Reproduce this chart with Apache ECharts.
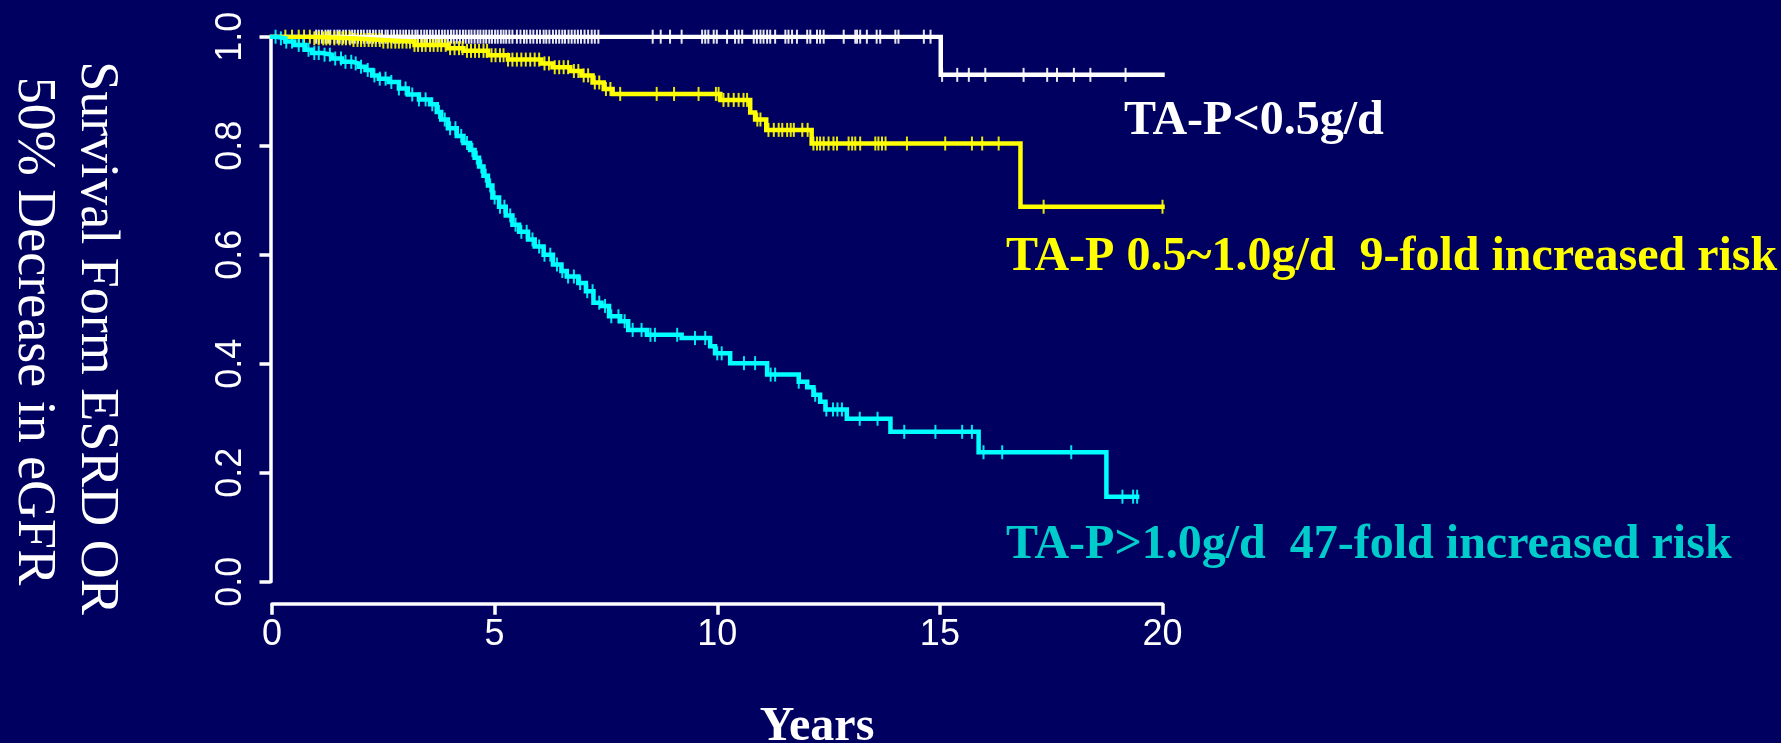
<!DOCTYPE html>
<html>
<head>
<meta charset="utf-8">
<title>Survival by time-averaged proteinuria</title>
<script src="https://cdn.jsdelivr.net/npm/echarts@6/dist/echarts.min.js"></script>
<style>
  html, body { margin: 0; padding: 0; background: #000060; }
  #chart { width: 1781px; height: 743px; }
</style>
</head>
<body>
<div id="chart"></div>
<script>
// Kaplan-Meier step curves: event times (years) and survival level from that time on
const whiteTimes  = [0, 15.02, 20.0];
const whiteSurv   = [1.0, 0.930, 0.930];

const yellowTimes = [0, 0.9, 1.8, 2.5, 3.2, 3.95, 4.3, 4.85, 5.3, 6.05, 6.3, 6.7, 6.95, 7.2, 7.45, 7.65,
                     10.07, 10.74, 10.85, 11.1, 12.12, 16.81, 20.0];
const yellowSurv  = [1.0, 0.997, 0.994, 0.991, 0.985, 0.979, 0.974, 0.966, 0.958, 0.951, 0.944, 0.937, 0.929, 0.916, 0.904, 0.895,
                     0.884, 0.861, 0.848, 0.829, 0.804, 0.688, 0.688];

const cyanTimes   = [0, 0.1, 0.3, 0.5, 0.75, 0.9, 1.12, 1.35, 1.57, 1.8, 1.95, 2.1, 2.25, 2.4, 2.62, 2.85,
                     3.05, 3.3, 3.55, 3.7, 3.8, 3.95, 4.15, 4.3, 4.45, 4.55, 4.65, 4.75, 4.85, 4.95,
                     5.1, 5.25, 5.4, 5.55, 5.75, 5.9, 6.1, 6.31, 6.5, 6.62, 6.88, 7.05, 7.22, 7.4, 7.57, 7.82,
                     8.0, 8.42, 9.2, 9.84, 9.95, 10.29, 11.12, 11.83, 12.02, 12.16, 12.31, 12.43, 12.91,
                     13.89, 15.87, 18.74, 19.43];
const cyanSurv    = [1.0, 0.997, 0.991, 0.985, 0.976, 0.970, 0.967, 0.960, 0.954, 0.951, 0.945, 0.939, 0.929, 0.923, 0.917, 0.905,
                     0.894, 0.885, 0.876, 0.862, 0.848, 0.832, 0.818, 0.805, 0.792, 0.778, 0.762, 0.745, 0.727, 0.705,
                     0.688, 0.672, 0.655, 0.642, 0.628, 0.615, 0.600, 0.582, 0.570, 0.560, 0.548, 0.533, 0.512, 0.506, 0.487, 0.478,
                     0.462, 0.453, 0.447, 0.432, 0.419, 0.401, 0.380, 0.367, 0.357, 0.343, 0.330, 0.316, 0.299,
                     0.275, 0.2375, 0.156, 0.156];

// Censoring times (drawn as "+" marks on each curve)
const whiteCensor = [0.99, 1.05, 1.12, 1.2, 1.26, 1.31, 1.4, 1.47, 1.52, 1.6, 1.66, 1.74, 1.8, 1.86, 1.93, 2.0, 2.06, 2.14,
  2.2, 2.27, 2.33, 2.41, 2.47, 2.55, 2.6, 2.68, 2.74, 2.81, 2.88, 2.95, 3.01, 3.08, 3.15, 3.22, 3.27, 3.35, 3.42, 3.48,
  3.55, 3.61, 3.68, 3.75, 3.82, 3.88, 3.95, 4.02, 4.08, 4.15, 4.22, 4.29, 4.35, 4.42, 4.48, 4.55, 4.62, 4.68, 4.75, 4.81,
  4.88, 4.94, 5.01, 5.07, 5.14, 5.2, 5.26, 5.33, 5.4, 5.5, 5.58, 5.66, 5.72, 5.8, 5.87, 5.95, 6.02, 6.1, 6.16, 6.23, 6.31,
  6.38, 6.45, 6.52, 6.58, 6.66, 6.73, 6.8, 6.87, 6.94, 7.02, 7.1, 7.18, 7.25, 7.33, 8.55, 8.73, 8.94, 9.2, 9.66, 9.73,
  9.8, 9.92, 9.99, 10.22, 10.4, 10.48, 10.56, 10.82, 10.89, 10.97, 11.04, 11.12, 11.19, 11.3, 11.53, 11.6, 11.68, 11.79,
  12.02, 12.09, 12.24, 12.31, 12.39, 12.84, 13.1, 13.14, 13.21, 13.36, 13.58, 13.66, 14.0, 14.07, 14.64, 14.79,
  15.05, 15.39, 15.65, 16.02, 16.88, 17.41, 17.63, 18.01, 18.38, 19.17];

const yellowCensor = [0.3, 0.45, 0.6, 0.72, 0.85, 0.95, 1.05, 1.15, 1.22, 1.3, 1.4, 1.5, 1.58, 1.66, 1.75, 1.83, 1.92,
  2.0, 2.08, 2.17, 2.25, 2.33, 2.42, 2.5, 2.6, 2.68, 2.77, 2.85, 2.93, 3.02, 3.1, 3.2, 3.28, 3.37, 3.45, 3.55, 3.63,
  3.72, 3.8, 3.9, 4.0, 4.1, 4.2, 4.28, 4.38, 4.47, 4.56, 4.65, 4.75, 4.83, 4.93, 5.02, 5.12, 5.2, 5.3, 5.4, 5.5, 5.6,
  5.7, 5.8, 5.9, 6.0, 6.12, 6.22, 6.35, 6.45, 6.55, 6.65, 6.78, 6.88, 7.0, 7.1, 7.25, 7.35, 7.5, 7.6, 7.82, 8.64, 9.03,
  9.58, 9.97, 10.03, 10.14, 10.25, 10.37, 10.48, 10.59, 10.67, 10.9, 10.97, 11.15, 11.27, 11.38, 11.46, 11.57, 11.65,
  11.72, 11.91, 12.03, 12.16, 12.24, 12.31, 12.39, 12.5, 12.61, 12.69, 12.95, 13.03, 13.1, 13.21, 13.55, 13.62, 13.7,
  13.78, 14.26, 15.12, 15.72, 15.95, 16.32, 17.33, 20.0];

const cyanCensor = [0.08, 0.2, 0.32, 0.45, 0.6, 0.7, 0.82, 0.95, 1.05, 1.18, 1.3, 1.42, 1.55, 1.65, 1.78, 1.88, 2.0,
  2.15, 2.3, 2.42, 2.55, 2.68, 2.85, 3.0, 3.15, 3.3, 3.45, 3.6, 3.75, 3.88, 4.0, 4.12, 4.25, 4.38, 4.5, 4.6, 4.7, 4.8,
  4.9, 5.0, 5.12, 5.22, 5.35, 5.47, 5.6, 5.72, 5.85, 6.0, 6.12, 6.25, 6.4, 6.52, 6.65, 6.78, 6.92, 7.08, 7.2, 7.35,
  7.48, 7.62, 7.78, 7.92, 8.1, 8.3, 8.5, 8.6, 9.1, 9.5, 9.73, 10.0, 10.1, 10.6, 10.85, 11.2, 11.3, 11.83, 12.2, 12.45,
  12.6, 12.7, 12.8, 13.2, 13.6, 14.2, 14.9, 15.5, 15.72, 15.98, 16.4, 17.95, 19.1, 19.34, 19.43];

const xTicks = [0, 5, 10, 15, 20];
const yTicks = [0.0, 0.2, 0.4, 0.6, 0.8, 1.0];

const groupLabels = [
  'TA-P<0.5g/d',
  'TA-P 0.5~1.0g/d  9-fold increased risk',
  'TA-P>1.0g/d  47-fold increased risk'
];
const yTitleLines = ['Survival Form ESRD OR', '50% Decrease in eGFR'];
const xTitle = 'Years';

const WHITE = '#ffffff', YELLOW = '#ffff00', CYAN = '#00ffff', CYAN_TEXT = '#00cccc';
const SERIF = '"Liberation Serif", "Times New Roman", serif';
const SANS = '"Liberation Sans", Arial, Helvetica, sans-serif';

function pairs(ts, ss) { return ts.map((t, i) => [t, ss[i]]); }
// survival level of a step curve at time t
function levelAt(ts, ss, t) {
  let s = ss[0];
  for (let i = 0; i < ts.length; i++) { if (ts[i] <= t) s = ss[i]; else break; }
  return s;
}
function censorPoints(ts, ss, cs) { return cs.map(t => [t, levelAt(ts, ss, t)]); }

function curve(name, ts, ss, color) {
  return {
    name, type: 'line', step: 'end', data: pairs(ts, ss),
    showSymbol: false, symbol: 'none', silent: true,
    lineStyle: { color, width: 4.5, cap: 'square', join: 'miter' }
  };
}
function marks(name, ts, ss, cs, color, opacity) {
  return {
    name, type: 'scatter', data: censorPoints(ts, ss, cs),
    symbol: 'rect', symbolSize: [2, 14], silent: true,
    itemStyle: { color, opacity }
  };
}

const chart = echarts.init(document.getElementById('chart'), null, { renderer: 'canvas' });
chart.setOption({
  backgroundColor: '#000060',
  animation: false,
  grid: { left: 272, right: 618.5, top: 36.7, bottom: 161.3, containLabel: false },
  xAxis: {
    type: 'value', min: xTicks[0], max: xTicks[xTicks.length - 1], interval: 5,
    offset: 22,
    axisLine: { show: true, onZero: false, lineStyle: { color: WHITE, width: 3.5 } },
    axisTick: { show: true, length: 11, lineStyle: { color: WHITE, width: 3.5 } },
    axisLabel: { color: WHITE, fontFamily: SANS, fontSize: 36, margin: 13 },
    splitLine: { show: false }
  },
  yAxis: {
    type: 'value', min: yTicks[0], max: yTicks[yTicks.length - 1], interval: 0.2,
    offset: 1.5,
    axisLine: { show: true, onZero: false, lineStyle: { color: WHITE, width: 3.5 } },
    axisTick: { show: true, length: 11, lineStyle: { color: WHITE, width: 3.5 } },
    axisLabel: { color: WHITE, fontFamily: SANS, fontSize: 36, rotate: 90, margin: 21,
                 formatter: v => v.toFixed(1) },
    splitLine: { show: false }
  },
  series: [
    curve('TA-P<0.5', whiteTimes, whiteSurv, WHITE),
    marks('TA-P<0.5 censored', whiteTimes, whiteSurv, whiteCensor, WHITE, 0.9),
    curve('TA-P 0.5-1.0', yellowTimes, yellowSurv, YELLOW),
    marks('TA-P 0.5-1.0 censored', yellowTimes, yellowSurv, yellowCensor, YELLOW, 0.9),
    curve('TA-P>1.0', cyanTimes, cyanSurv, CYAN),
    marks('TA-P>1.0 censored', cyanTimes, cyanSurv, cyanCensor, CYAN, 0.9)
  ],
  graphic: [
    { type: 'text', x: 1124, y: 121.5, silent: true,
      style: { text: groupLabels[0], fill: WHITE, font: 'bold 48px ' + SERIF, align: 'left', verticalAlign: 'middle' } },
    { type: 'text', x: 1006, y: 257.5, silent: true,
      style: { text: groupLabels[1], fill: YELLOW, font: 'bold 48px ' + SERIF, align: 'left', verticalAlign: 'middle' } },
    { type: 'text', x: 1006, y: 545.5, silent: true,
      style: { text: groupLabels[2], fill: CYAN_TEXT, font: 'bold 48px ' + SERIF, align: 'left', verticalAlign: 'middle' } },
    { type: 'text', x: 817, y: 728, silent: true,
      style: { text: xTitle, fill: WHITE, font: 'bold 48px ' + SERIF, align: 'center', verticalAlign: 'middle' } },
    { type: 'text', x: 96.5, y: 338, rotation: -Math.PI / 2, silent: true,
      style: { text: yTitleLines[0], fill: WHITE, font: '54px ' + SERIF, align: 'center', verticalAlign: 'middle' } },
    { type: 'text', x: 33, y: 331, rotation: -Math.PI / 2, silent: true,
      style: { text: yTitleLines[1], fill: WHITE, font: '54px ' + SERIF, align: 'center', verticalAlign: 'middle' } }
  ]
});
</script>
</body>
</html>
